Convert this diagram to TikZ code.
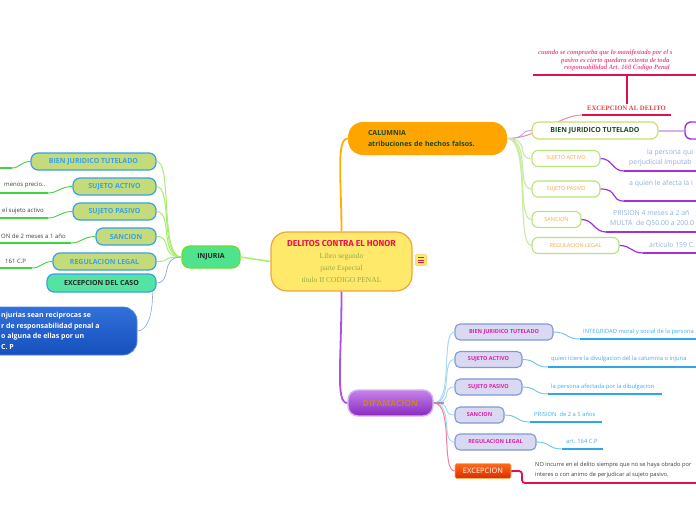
\documentclass[tikz,border=0pt]{standalone}
\usepackage{fontspec}
\setmainfont{Open Sans}
\newfontfamily\serifa{Liberation Serif}
\newfontfamily\titlef{Fira Sans}
\definecolor{lgreen}{HTML}{A6EE6E}
\definecolor{bgreen}{HTML}{3DD43D}
\definecolor{oliv}{HTML}{C4DB7C}
\definecolor{bblue}{HTML}{3AA0E6}
\definecolor{mint}{HTML}{55E3A3}
\definecolor{injf}{HTML}{4FE38D}
\definecolor{injb}{HTML}{6BDD2E}
\definecolor{cenf}{HTML}{FEE96A}
\definecolor{cenb}{HTML}{F2A43A}
\definecolor{titr}{HTML}{E8174E}
\definecolor{subg}{HTML}{8FAE45}
\definecolor{orng}{HTML}{FFA500}
\definecolor{calt}{HTML}{1B4A22}
\definecolor{crim}{HTML}{E0104E}
\definecolor{pinkt}{HTML}{F0508A}
\definecolor{exr}{HTML}{E84242}
\definecolor{cyg}{HTML}{C6E26A}
\definecolor{cgb}{HTML}{B7E37C}
\definecolor{ctxt}{HTML}{F5A845}
\definecolor{cleaf}{HTML}{8EB2E2}
\definecolor{cpur}{HTML}{A030E0}
\definecolor{lpur}{HTML}{D7B2F2}
\definecolor{cconn}{HTML}{CDEBA5}
\definecolor{dfl}{HTML}{D9D9F2}
\definecolor{dbo}{HTML}{7E9AD6}
\definecolor{mag}{HTML}{DC1FA6}
\definecolor{dconn}{HTML}{A9D9F2}
\definecolor{dleaf}{HTML}{3FAEEE}
\definecolor{dul}{HTML}{2FA6E8}
\definecolor{dtx}{HTML}{C8823F}
\definecolor{mauve}{HTML}{B58AB5}
\definecolor{pinkc}{HTML}{F07FA5}
\definecolor{bluec}{HTML}{8FA8E0}
\definecolor{darkt}{HTML}{404040}
\definecolor{bxtop}{HTML}{3170DA}
\definecolor{bxbot}{HTML}{1650BC}
\definecolor{bxbd}{HTML}{4A86E2}
\begin{document}
\begin{tikzpicture}[x=1pt,y=-1pt,
  every node/.style={inner sep=0pt},
  ibox/.style={draw=bblue, line width=1.2pt, fill=oliv, rounded corners=7pt, minimum height=17pt, font=\bfseries\fontsize{7}{8}\selectfont, text=bblue},
  cbox/.style={draw=cgb, line width=1.1pt, fill=white, rounded corners=6pt, minimum height=16pt, font=\fontsize{5.5}{6}\selectfont, text=ctxt},
  dbox/.style={draw=dbo, line width=1.1pt, fill=dfl, rounded corners=5pt, minimum height=16pt, font=\bfseries\fontsize{5.5}{6}\selectfont, text=mag},
  ic/.style={lgreen, line width=1pt},
  lcurve/.style={bgreen, line width=0.9pt},
  lul/.style={bgreen, line width=1.8pt},
  cc/.style={cconn, line width=1.2pt},
  cpc/.style={cpur, line width=1.2pt},
  cpul/.style={cpur, line width=1.6pt},
  dc/.style={dconn, line width=1pt},
  dcurve/.style={dul!70, line width=0.9pt},
  dulst/.style={dul, line width=1.6pt},
  lleaf/.style={font=\fontsize{6}{7}\selectfont, text=darkt, anchor=west},
  cleafst/.style={font=\fontsize{6.9}{8}\selectfont, text=cleaf, anchor=west},
  dleafst/.style={font=\fontsize{5.8}{7}\selectfont, text=dleaf, anchor=west},
  pinkst/.style={font=\serifa\bfseries\itshape\fontsize{6.6}{7}\selectfont, text=pinkt, anchor=west}
]
\useasboundingbox (0,0) rectangle (696,520);
\clip (0,0) rectangle (696,520);
\fill[white] (0,0) rectangle (696,520);

% ---------- central node ----------
\node[draw=cenb, line width=1.2pt, fill=cenf, rounded corners=16pt, minimum width=141pt, minimum height=59pt,
  align=center, font=\serifa\fontsize{7.5}{12}\selectfont, text=subg] (cen) at (341.5,261.5)
  {{\titlef\bfseries\fontsize{8.7}{12}\selectfont\color{titr}DELITOS CONTRA EL HONOR}\\Libro segundo\\parte Especial\\título II CODIGO PENAL};
\node[fill=cenf, draw=cenf!70!orange, line width=0.5pt, rounded corners=1pt, minimum width=11pt, minimum height=11pt] (ico) at (421,260) {};
\foreach \dy in {-2.6,0,2.6}
  \draw[titr, line width=0.8pt] ([xshift=-3pt,yshift=\dy pt]ico.center) -- ([xshift=3pt,yshift=\dy pt]ico.center);

% ---------- INJURIA ----------
\node[draw=injb, line width=1.2pt, fill=injf, rounded corners=8pt, minimum width=58pt, minimum height=22pt,
  font=\bfseries\fontsize{7}{8}\selectfont, text=black!85] (inj) at (211,257) {INJURIA};
\draw[lgreen, line width=1.5pt] (cen.west) -- (inj.east);

\node[ibox, minimum width=125pt] (ibj) at (93.5,161.5) {BIEN JURIDICO TUTELADO};
\node[ibox, minimum width=83pt] (isa) at (114.5,186.5) {SUJETO ACTIVO};
\node[ibox, minimum width=83pt] (isp) at (114.5,211.5) {SUJETO PASIVO};
\node[ibox, minimum width=60pt] (isn) at (126,236.5) {SANCION};
\node[ibox, minimum width=103pt] (irl) at (104.5,261.5) {REGULACION LEGAL};
\node[draw=bblue, line width=1.2pt, fill=mint, rounded corners=7pt, minimum width=109pt, minimum height=18pt,
  font=\bfseries\fontsize{7}{8}\selectfont, text=black!85] (iex) at (101.5,283) {EXCEPCION DEL CASO};
\node[draw=bxbd, line width=0.8pt, top color=bxtop, bottom color=bxbot,
  rounded corners=14pt, minimum width=177pt, minimum height=48pt] (ibx) at (48.5,331) {};
\node[anchor=west, align=left, font=\bfseries\fontsize{7}{10.7}\selectfont, text=white] (ibt) at (1,331)
  {njurias sean reciprocas se\\r de responsabilidad penal a\\o alguna de ellas por un\\C. P};

\foreach \n in {ibj,isa,isp,isn,irl}
  \draw[ic] (inj.west) .. controls +(-22,0) and +(16,0) .. (\n.east);
\draw[bluec, line width=0.7pt] (inj.west) .. controls +(-22,0) and +(16,0) .. (iex.east);
\draw[bluec, line width=0.6pt] ([xshift=-4pt]iex.south east) .. controls +(0,22) and +(10,0) .. (ibx.east);

% left leaves
\coordinate (lu1) at (12,168);  \coordinate (lu1e) at (-5,168);
\coordinate (lu2) at (48,193);  \coordinate (lu2e) at (-5,193);
\coordinate (lu3) at (48,218);  \coordinate (lu3e) at (-5,218);
\coordinate (lu4) at (71,243);  \coordinate (lu4e) at (-5,243);
\coordinate (lu5) at (32,268);  \coordinate (lu5e) at (-5,268);
\draw[lcurve] (ibj.west) .. controls +(-10,0) and +(8,0) .. (lu1);
\draw[lcurve] (isa.west) .. controls +(-12,0) and +(10,0) .. (lu2);
\draw[lcurve] (isp.west) .. controls +(-12,0) and +(10,0) .. (lu3);
\draw[lcurve] (isn.west) .. controls +(-12,0) and +(10,0) .. (lu4);
\draw[lcurve] (irl.west) .. controls +(-10,0) and +(9,0) .. (lu5);
\draw[lul] (lu1) -- (lu1e);
\draw[lul] (lu2) -- (lu2e);
\draw[lul] (lu3) -- (lu3e);
\draw[lul] (lu4) -- (lu4e);
\draw[lul] (lu5) -- (lu5e);
\node[lleaf] (lt2) at (4,185.5) {menos precio..};
\node[lleaf] (lt3) at (2,211) {el sujeto activo};
\node[lleaf] (lt4) at (1,236) {ON de 2 meses a 1 año};
\node[lleaf] (lt5) at (5,261) {161 C.P};

% ---------- CALUMNIA ----------
\node[fill=orng, rounded corners=15pt, minimum width=159pt, minimum height=33pt, align=left, text width=119pt,
  font=\bfseries\fontsize{7}{11}\selectfont, text=calt] (cal) at (427.5,138.5)
  {CALUMNIA\\atribuciones de hechos falsos.};
\draw[orng!90!yellow, line width=1.8pt] (cen.north) .. controls +(0,-50) and +(-12,0) .. (cal.west);

% excepcion al delito
\coordinate (ea) at (582,115); \coordinate (eb) at (671,115);
\node[font=\serifa\bfseries\fontsize{6.7}{7}\selectfont, text=exr, inner ysep=2pt] (exd) at (626.5,108) {EXCEPCION AL DELITO};
\coordinate (ta) at (533,75); \coordinate (tb) at (700,75);
\draw[crim, line width=2pt] (ea) -- (eb);
\draw[crim, line width=1.5pt] (ta) -- (tb);
\draw[crim, line width=2pt] (exd.north) -- (exd.north |- ta);
\node[pinkst] (pk1) at (538,53) {cuando se comprueba que lo manifestado por el s};
\node[pinkst] (pk2) at (561,60.5) {pasivo es cierto quedara extenta de toda};
\node[pinkst] (pk3) at (564,68) {responsabilidad Art. 160 Codigo Penal};
\draw[pinkc, line width=0.9pt] (cal.east) .. controls +(30,0) and +(-22,0) .. (ea);

% calumnia children
\node[draw=cyg, line width=1.2pt, fill=white, rounded corners=7pt, minimum width=126pt, minimum height=17pt,
  font=\bfseries\fontsize{7}{8}\selectfont, text=calt] (cbj) at (595,130.5) {BIEN JURIDICO TUTELADO};
\node[draw=cpur, line width=1.4pt, fill=white, rounded corners=6pt, minimum width=35pt, minimum height=17pt] (cpb) at (702.5,130.5) {};
\draw[lpur, line width=2pt] (cbj.east) -- (cpb.west);
\node[cbox, minimum width=68pt] (csa) at (566,158.5) {SUJETO ACTIVO};
\node[cbox, minimum width=68pt] (csp) at (566,189) {SUJETO PASIVO};
\node[cbox, minimum width=49pt] (csn) at (556.5,219.5) {SANCION};
\node[cbox, minimum width=87pt] (crl) at (575.5,245.5) {REGULACION LEGAL};
\draw[lpur!80!cpur, line width=0.9pt] (cal.east) .. controls +(20,0) and +(-12,0) .. (cbj.west);
\foreach \n in {csa,csp,csn,crl}
  \draw[cc] (cal.east) .. controls +(24,0) and +(-16,0) .. (\n.west);

% calumnia leaves
\coordinate (cu1) at (624,171); \coordinate (cu1e) at (700,171);
\coordinate (cu2) at (624,201); \coordinate (cu2e) at (700,201);
\coordinate (cu3) at (606,232); \coordinate (cu3e) at (700,232);
\coordinate (cu4) at (643,253); \coordinate (cu4e) at (700,253);
\draw[cpc] (csa.east) .. controls +(12,0) and +(-12,0) .. (cu1);
\draw[cpc] (csp.east) .. controls +(18,0) and +(-14,0) .. (cu2);
\draw[cpc] (csn.east) .. controls +(12,0) and +(-12,0) .. (cu3);
\draw[cpc] (crl.east) .. controls +(12,0) and +(-12,0) .. (cu4);
\draw[cpul] (cu1) -- (cu1e);
\draw[cpul] (cu2) -- (cu2e);
\draw[cpul] (cu3) -- (cu3e);
\draw[cpul] (cu4) -- (cu4e);
\node[cleafst] (ct1) at (647,153) {la persona qui};
\node[cleafst] (ct2) at (629,163) {perjudicial imputab};
\node[cleafst] (ct3) at (629,184) {a quien le afecta la i};
\node[cleafst] (ct4) at (613,213) {PRISION 4 meses a 2 añ};
\node[cleafst] (ct5) at (610,223.5) {MULTA \ de Q50.00 a 200.0};
\node[cleafst] (ct6) at (649,245) {articulo 159 C.};

% ---------- DIFAMACION ----------
\node[draw=lpur, line width=1.4pt, top color=cpur!60!white, bottom color=cpur!85!black, rounded corners=10pt,
  minimum width=85pt, minimum height=26pt, font=\bfseries\fontsize{8.5}{9}\selectfont, text=dtx] (dif) at (390.5,403) {DIFAMACION};
\draw[cpur!85!white, line width=1.8pt] (cen.south) .. controls +(0,70) and +(-12,0) .. (dif.west);

\node[dbox, minimum width=98pt] (dbj) at (504,332) {BIEN JURIDICO TUTELADO};
\node[dbox, minimum width=67pt] (dsa) at (488.5,359.5) {SUJETO ACTIVO};
\node[dbox, minimum width=67pt] (dsp) at (488.5,387) {SUJETO PASIVO};
\node[dbox, minimum width=49pt] (dsn) at (479.5,415) {SANCION};
\node[dbox, minimum width=81pt] (drl) at (495.5,442) {REGULACION LEGAL};
\node[draw=orange!60!white, line width=0.6pt, top color=orange!70!red!90!white, bottom color=red!60!orange!85!black,
  rounded corners=1.5pt, minimum width=56pt, minimum height=15pt, font=\fontsize{7.5}{8}\selectfont, text=white] (dex) at (483,471) {EXCEPCION};

\foreach \n in {dbj,dsa,dsp,dsn,drl}
  \draw[dc] (dif.east) .. controls +(20,0) and +(-14,0) .. (\n.west);
\draw[pinkc, line width=1pt] (dif.east) .. controls +(20,0) and +(-14,0) .. (dex.west);
\draw[mauve, line width=1.6pt] (dif.east) -- ++(10,0);

% difamacion leaves
\coordinate (du1) at (580,339); \coordinate (du1e) at (700,339);
\coordinate (du2) at (548,367); \coordinate (du2e) at (700,367);
\coordinate (du3) at (548,394); \coordinate (du3e) at (662,394);
\coordinate (du4) at (530,422); \coordinate (du4e) at (602,422);
\coordinate (du5) at (562,449); \coordinate (du5e) at (603,449);
\draw[dcurve] (dbj.east) .. controls +(14,0) and +(-14,0) .. (du1);
\draw[dcurve] (dsa.east) .. controls +(14,0) and +(-14,0) .. (du2);
\draw[dcurve] (dsp.east) .. controls +(14,0) and +(-14,0) .. (du3);
\draw[dcurve] (dsn.east) .. controls +(14,0) and +(-14,0) .. (du4);
\draw[dcurve] (drl.east) .. controls +(14,0) and +(-14,0) .. (du5);
\draw[dulst] (du1) -- (du1e);
\draw[dulst] (du2) -- (du2e);
\draw[dulst] (du3) -- (du3e);
\draw[dulst] (du4) -- (du4e);
\draw[dulst] (du5) -- (du5e);
\node[dleafst] (dt1) at (583,331.5) {INTEGRIDAD moral y social de la persona};
\node[dleafst] (dt2) at (551,359) {quien iciere la divulgacion del la calumnia o injuria};
\node[dleafst] (dt3) at (551,387) {la persona afectada por la dibulgacion};
\node[dleafst] (dt4) at (534,414) {PRISION \ de 2 a 5 años};
\node[dleafst] (dt5) at (566,441.5) {art. 164 C.P};
\coordinate (xu1) at (522,483); \coordinate (xu1e) at (700,483);
\draw[crim, line width=1.8pt, rounded corners=3pt] (dex.east) -| (xu1) -- (xu1e);
\node[anchor=north west, align=left, font=\fontsize{5.7}{9.5}\selectfont, text=darkt] (dt6) at (535,462)
  {NO incurre en el delito siempre que no se haya obrado por\\interes o con animo de perjudicar al sujeto pasivo.};
\end{tikzpicture}
\end{document}
